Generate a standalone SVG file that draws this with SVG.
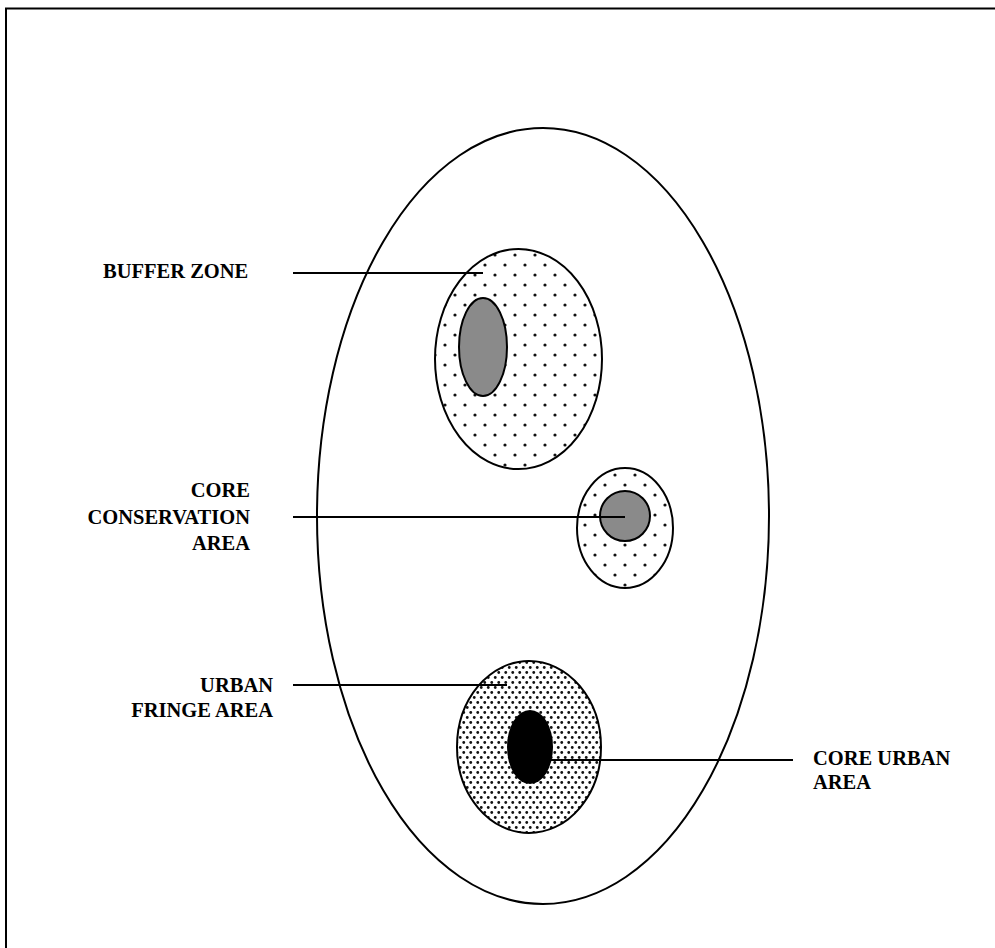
<svg xmlns="http://www.w3.org/2000/svg" width="995" height="948" viewBox="0 0 995 948">
<style>
.o{fill:none;stroke:#000;stroke-width:2}
.l{stroke:#000;stroke-width:2}
.t{font-family:"Liberation Serif",serif;font-weight:bold;font-size:20.5px;fill:#000}
.r{text-anchor:end}
</style>
<defs>
<pattern id="sparse" width="20" height="20" patternUnits="userSpaceOnUse">
<rect width="20" height="20" fill="#fff"/>
<circle cx="5" cy="5" r="1.6" fill="#111"/>
<circle cx="15" cy="15" r="1.6" fill="#111"/>
</pattern>
<pattern id="dense" width="7" height="10" patternUnits="userSpaceOnUse">
<rect width="7" height="10" fill="#fff"/>
<circle cx="1.75" cy="2.5" r="1.4" fill="#111"/>
<circle cx="5.25" cy="7.5" r="1.4" fill="#111"/>
</pattern>
</defs>
<rect x="0" y="0" width="995" height="948" fill="#fff"/>
<path d="M6 948 V8.5 H995" class="o" stroke-width="2.5"/>
<g id="region"><ellipse cx="543" cy="516" rx="226" ry="388" class="o"/></g>
<g id="buffer-zone">
<ellipse cx="518.5" cy="359" rx="83.5" ry="110" fill="url(#sparse)" stroke="#000" stroke-width="2"/>
<ellipse cx="483" cy="347" rx="24" ry="49" fill="#8a8a8a" stroke="#000" stroke-width="2"/>
</g>
<g id="core-conservation">
<ellipse cx="625" cy="528" rx="48" ry="60" fill="url(#sparse)" stroke="#000" stroke-width="2"/>
<circle cx="625" cy="516" r="25" fill="#8a8a8a" stroke="#000" stroke-width="2"/>
</g>
<g id="urban">
<ellipse cx="529" cy="747" rx="72" ry="86" fill="url(#dense)" stroke="#000" stroke-width="2"/>
<ellipse cx="530" cy="747" rx="23" ry="37" fill="#000"/>
</g>
<g id="connectors">
<line x1="293" y1="273" x2="483" y2="273" class="l"/>
<line x1="293" y1="517" x2="625" y2="517" class="l"/>
<line x1="293" y1="685" x2="507" y2="685" class="l"/>
<line x1="530" y1="760" x2="793" y2="760" class="l"/>
</g>
<g id="labels">
<text x="103" y="278" class="t">BUFFER ZONE</text>
<text x="250" y="497" class="t r">CORE</text>
<text x="250" y="524" class="t r">CONSERVATION</text>
<text x="250" y="550" class="t r">AREA</text>
<text x="273" y="692" class="t r">URBAN</text>
<text x="273" y="717" class="t r">FRINGE AREA</text>
<text x="813" y="765" class="t">CORE URBAN</text>
<text x="813" y="789" class="t">AREA</text>
</g>
</svg>
